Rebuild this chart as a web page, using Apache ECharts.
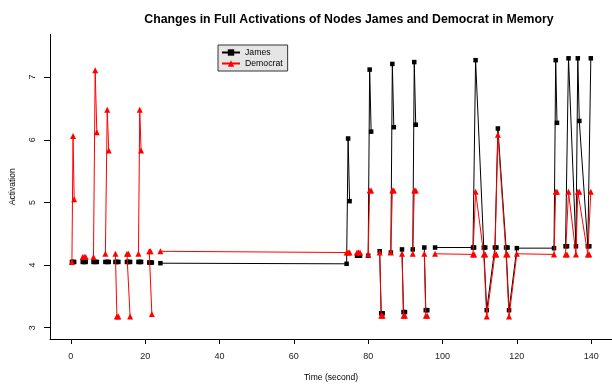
<!DOCTYPE html>
<html>
<head>
<meta charset="utf-8">
<script src="https://cdn.jsdelivr.net/npm/echarts@6/dist/echarts.min.js"></script>
<style>
html,body{margin:0;padding:0;background:#fff;}
#c{width:612px;height:387px;}
</style>
</head>
<body>
<div id="c"></div>
<script>
// Sample times (seconds) shared by both nodes
const times = [
  0.3, 0.6, 0.9,   3.2, 3.6, 4.0,   6.1, 6.55, 7.0,   9.3, 9.8, 10.2,
  12.0, 12.4, 12.8,   15.1, 15.5, 15.95,   18.2, 18.55, 18.9,   21.1, 21.45, 21.8,
  24.1,
  74.2, 74.6, 75.0,   77.0, 77.4, 77.8,   80.0, 80.4, 80.8,   83.1, 83.5, 83.9,
  86.1, 86.5, 86.9,   89.1, 89.5, 89.9,   92.0, 92.4, 92.8,   95.1, 95.5, 95.9,
  98.0,
  108.2, 108.5, 108.9,   111.1, 111.5, 111.9,   114.1, 114.5, 114.9,   117.1, 117.5, 117.9,
  120.0,
  130.0, 130.45, 130.8,   133.1, 133.5, 133.9,   135.9, 136.4, 136.8,   139.1, 139.5, 139.9
];
const james = [
  4.05, 4.05, 4.05,   4.05, 4.05, 4.05,   4.05, 4.05, 4.05,   4.05, 4.05, 4.05,
  4.05, 4.05, 4.05,   4.05, 4.05, 4.05,   4.05, 4.05, 4.05,   4.04, 4.04, 4.04,
  4.03,
  4.02, 6.02, 5.02,   4.15, 4.15, 4.15,   4.15, 7.12, 6.13,   4.22, 3.23, 3.23,
  4.20, 7.21, 6.20,   4.25, 3.25, 3.25,   4.25, 7.24, 6.24,   4.28, 3.28, 3.28,
  4.28,
  4.28, 4.28, 7.27,   4.28, 4.28, 3.28,   4.28, 4.28, 6.18,   4.28, 4.28, 3.28,
  4.27,
  4.27, 7.27, 6.27,   4.30, 4.30, 7.30,   4.30, 7.30, 6.30,   4.30, 4.30, 7.30
];
const democrat = [
  4.05, 6.06, 5.05,   4.13, 4.13, 4.13,   4.13, 7.11, 6.12,   4.18, 6.48, 5.83,
  4.18, 3.18, 3.18,   4.18, 4.18, 3.18,   4.18, 6.48, 5.83,   4.22, 4.22, 3.22,
  4.22,
  4.20, 4.20, 4.20,   4.20, 4.20, 4.20,   4.17, 5.19, 5.19,   4.20, 3.19, 3.19,
  4.20, 5.19, 5.19,   4.18, 3.19, 3.19,   4.18, 5.19, 5.19,   4.18, 3.19, 3.19,
  4.18,
  4.17, 4.17, 5.17,   4.17, 4.17, 3.18,   4.17, 4.17, 6.08,   4.17, 4.17, 3.18,
  4.18,
  4.17, 5.17, 5.17,   4.17, 4.17, 5.17,   4.17, 5.17, 5.17,   4.17, 4.17, 5.17
];
// indices where the drawn line restarts (no connecting segment before them)
const lineBreaksBefore = [3, 6, 9, 12, 15, 18, 21, 24, 28, 31, 34, 37, 40, 43, 46, 49, 66];
const xTicks = [0, 20, 40, 60, 80, 100, 120, 140];
const yTicks = [3, 4, 5, 6, 7];

function build(vals) {
  const out = [];
  times.forEach((t, i) => {
    if (lineBreaksBefore.includes(i)) out.push([t, null]);
    out.push([t, vals[i]]);
  });
  return out;
}

const FONT = "'Liberation Sans', Arial, Helvetica, sans-serif";
const chart = echarts.init(document.getElementById('c'), null, {renderer: 'canvas'});
chart.setOption({
  animation: false,
  backgroundColor: '#ffffff',
  title: {
    text: 'Changes in Full Activations of Nodes James and Democrat in Memory',
    left: 344, top: 9, textAlign: 'center',
    textStyle: {fontFamily: FONT, fontSize: 12.3, fontWeight: 'bold', color: '#000'}
  },
  legend: {
    orient: 'vertical', left: 218, top: 45,
    padding: [3, 5, 3, 3], itemGap: 2, itemWidth: 18, itemHeight: 8,
    backgroundColor: '#e5e5e5', borderColor: '#333', borderWidth: 1,
    textStyle: {fontFamily: FONT, fontSize: 8.7, color: '#000'},
    data: ['James', 'Democrat']
  },
  grid: {left: 47, right: -4, top: 34.5, bottom: 41.5, containLabel: false},
  xAxis: {
    type: 'value', min: -5.6, max: 145.6,
    name: 'Time (second)', nameLocation: 'middle', nameGap: 34,
    nameTextStyle: {fontFamily: FONT, fontSize: 8.5, color: '#000'},
    axisLine: {show: true, onZero: false, lineStyle: {color: '#000', width: 1}},
    axisTick: {show: true, length: 5, customValues: xTicks, lineStyle: {color: '#000'}},
    axisLabel: {customValues: xTicks, margin: 13, fontFamily: FONT, fontSize: 9, color: '#222'},
    splitLine: {show: false}
  },
  yAxis: {
    type: 'value', min: 2.82, max: 7.68,
    name: 'Activation', nameLocation: 'middle', nameGap: 33, nameRotate: 90,
    nameTextStyle: {fontFamily: FONT, fontSize: 8.5, color: '#000'},
    axisLine: {show: true, onZero: false, lineStyle: {color: '#000', width: 1}},
    axisTick: {show: true, length: 6, customValues: yTicks, lineStyle: {color: '#000'}},
    axisLabel: {customValues: yTicks, rotate: 90, margin: 13, fontFamily: FONT, fontSize: 9, color: '#222'},
    splitLine: {show: false}
  },
  series: [
    {
      name: 'James', type: 'line', data: build(james),
      symbol: 'rect', symbolSize: 4.5, showAllSymbol: true, connectNulls: false,
      itemStyle: {color: '#000'}, lineStyle: {color: '#000', width: 1}, z: 2
    },
    {
      name: 'Democrat', type: 'line', data: build(democrat),
      symbol: 'triangle', symbolSize: 6, showAllSymbol: true, connectNulls: false,
      itemStyle: {color: '#ff0000'}, lineStyle: {color: '#ff0000', width: 1}, z: 3
    }
  ]
});
</script>
</body>
</html>
